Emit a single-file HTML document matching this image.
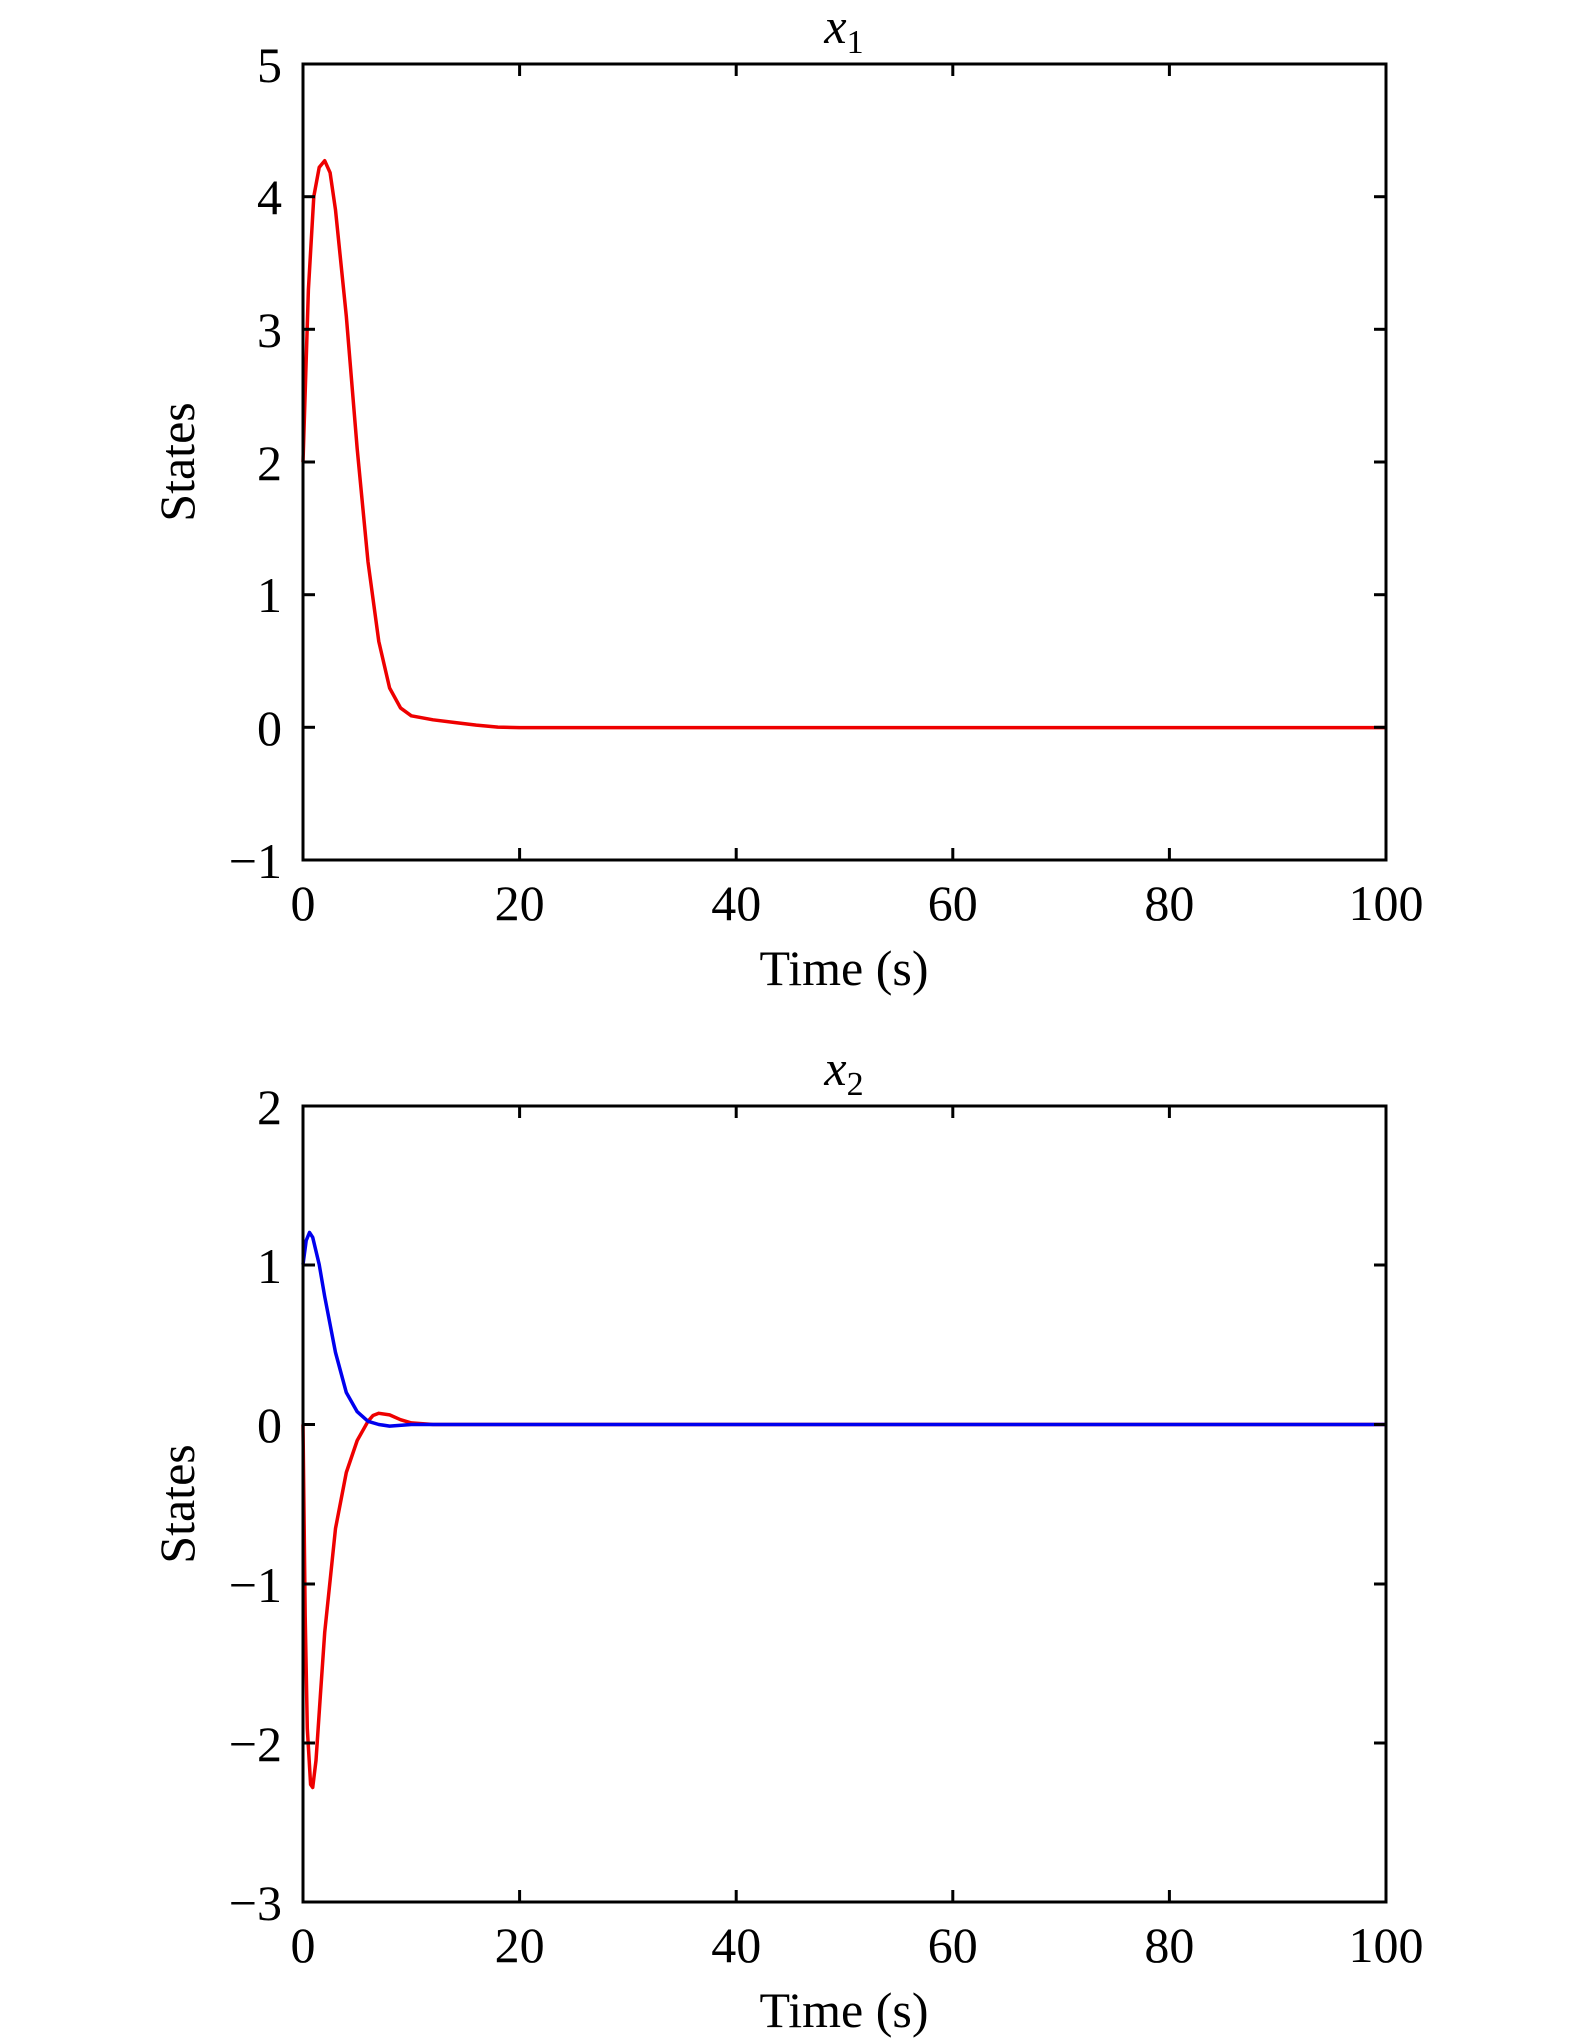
<!DOCTYPE html>
<html><head><meta charset="utf-8"><style>
html,body{margin:0;padding:0;background:#fff}
svg{display:block}
text{font-family:"Liberation Serif",serif;fill:#000}
</style></head><body>
<svg width="1575" height="2041" viewBox="0 0 1575 2041" xmlns="http://www.w3.org/2000/svg">
<g font-size="50">
<!-- Top plot -->
<text x="844" y="43" text-anchor="middle"><tspan font-style="italic">x</tspan><tspan font-size="34" dy="10">1</tspan></text>
<polyline fill="none" stroke="#e00" stroke-width="3.5" stroke-linejoin="round" points="303,462.2 308.4,289.6 313.8,196.6 319.2,167.4 324.7,160.7 330.1,172.7 335.5,209.9 346.3,316.1 357.2,448.9 368,561.8 378.8,641.5 389.6,688 400.5,707.9 411.3,715.8 433,719.8 454.6,722.5 476.3,725.1 497.9,727.1 519.6,727.6 1386,727.6"/>
<rect x="303" y="64" width="1083" height="796" fill="none" stroke="#000" stroke-width="3"/>
<g stroke="#000" stroke-width="3">
<line x1="519.6" y1="860" x2="519.6" y2="848"/><line x1="736.2" y1="860" x2="736.2" y2="848"/><line x1="952.8" y1="860" x2="952.8" y2="848"/><line x1="1169.4" y1="860" x2="1169.4" y2="848"/>
<line x1="519.6" y1="64" x2="519.6" y2="76"/><line x1="736.2" y1="64" x2="736.2" y2="76"/><line x1="952.8" y1="64" x2="952.8" y2="76"/><line x1="1169.4" y1="64" x2="1169.4" y2="76"/>
<line x1="303" y1="196.7" x2="315" y2="196.7"/><line x1="303" y1="329.3" x2="315" y2="329.3"/><line x1="303" y1="462" x2="315" y2="462"/><line x1="303" y1="594.7" x2="315" y2="594.7"/><line x1="303" y1="727.3" x2="315" y2="727.3"/>
<line x1="1386" y1="196.7" x2="1374" y2="196.7"/><line x1="1386" y1="329.3" x2="1374" y2="329.3"/><line x1="1386" y1="462" x2="1374" y2="462"/><line x1="1386" y1="594.7" x2="1374" y2="594.7"/><line x1="1386" y1="727.3" x2="1374" y2="727.3"/>
</g>
<g text-anchor="end">
<text x="282" y="82">5</text><text x="282" y="214">4</text><text x="282" y="347">3</text><text x="282" y="480">2</text><text x="282" y="612">1</text><text x="282" y="745">0</text><text x="282" y="878">−1</text>
</g>
<g text-anchor="middle">
<text x="303" y="920">0</text><text x="519.6" y="920">20</text><text x="736.2" y="920">40</text><text x="952.8" y="920">60</text><text x="1169.4" y="920">80</text><text x="1386" y="920">100</text>
<text x="844" y="985">Time (s)</text>
<text transform="translate(194,462) rotate(-90)">States</text>
</g>

<!-- Bottom plot -->
<text x="844" y="1085" text-anchor="middle"><tspan font-style="italic">x</tspan><tspan font-size="34" dy="10">2</tspan></text>
<g transform="translate(0,-2.5)">
<polyline fill="none" stroke="#e00" stroke-width="3.5" stroke-linejoin="round" points="303,1427 305.2,1619 307.3,1731 310.6,1787 312.7,1790 316,1763 320.3,1699 324.7,1635 335.5,1531 346.3,1475 357.2,1443 368,1423.8 373,1418 378.8,1415.8 389.6,1417.4 400.5,1422.2 411.3,1425.4 433,1427 1386,1427"/>
<polyline fill="none" stroke="#00e" stroke-width="3.5" stroke-linejoin="round" points="303,1267 306.2,1243 309.5,1235 312.7,1239.8 319.2,1267 324.7,1299 335.5,1355 346.3,1395 357.2,1414.2 368,1423.8 378.8,1427 389.6,1428.6 411.3,1427 1386,1427"/>
</g>
<rect x="303" y="1106" width="1083" height="796" fill="none" stroke="#000" stroke-width="3"/>
<g stroke="#000" stroke-width="3">
<line x1="519.6" y1="1902" x2="519.6" y2="1890"/><line x1="736.2" y1="1902" x2="736.2" y2="1890"/><line x1="952.8" y1="1902" x2="952.8" y2="1890"/><line x1="1169.4" y1="1902" x2="1169.4" y2="1890"/>
<line x1="519.6" y1="1106" x2="519.6" y2="1118"/><line x1="736.2" y1="1106" x2="736.2" y2="1118"/><line x1="952.8" y1="1106" x2="952.8" y2="1118"/><line x1="1169.4" y1="1106" x2="1169.4" y2="1118"/>
<line x1="303" y1="1265" x2="315" y2="1265"/><line x1="303" y1="1424.5" x2="315" y2="1424.5"/><line x1="303" y1="1584" x2="315" y2="1584"/><line x1="303" y1="1743" x2="315" y2="1743"/>
<line x1="1386" y1="1265" x2="1374" y2="1265"/><line x1="1386" y1="1424.5" x2="1374" y2="1424.5"/><line x1="1386" y1="1584" x2="1374" y2="1584"/><line x1="1386" y1="1743" x2="1374" y2="1743"/>
</g>
<g text-anchor="end">
<text x="282" y="1124">2</text><text x="282" y="1283">1</text><text x="282" y="1442">0</text><text x="282" y="1602">−1</text><text x="282" y="1761">−2</text><text x="282" y="1920">−3</text>
</g>
<g text-anchor="middle">
<text x="303" y="1962">0</text><text x="519.6" y="1962">20</text><text x="736.2" y="1962">40</text><text x="952.8" y="1962">60</text><text x="1169.4" y="1962">80</text><text x="1386" y="1962">100</text>
<text x="844" y="2027">Time (s)</text>
<text transform="translate(194,1504) rotate(-90)">States</text>
</g>
</g>
</svg>
</body></html>
